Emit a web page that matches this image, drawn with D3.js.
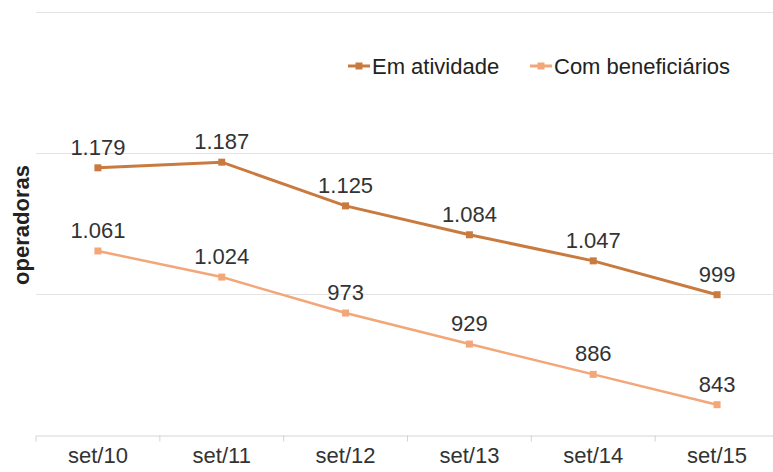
<!DOCTYPE html>
<html>
<head>
<meta charset="utf-8">
<script src="https://cdn.jsdelivr.net/npm/d3@7"></script>
<style>
  body { margin: 0; background: #fff; }
  text { font-family: "Liberation Sans", Arial, sans-serif; }
</style>
</head>
<body>
<svg id="chart" width="773" height="472"></svg>
<script>
// data
const periods = ["set/10", "set/11", "set/12", "set/13", "set/14", "set/15"];
const emAtividade = [1179, 1187, 1125, 1084, 1047, 999];
const comBeneficiarios = [1061, 1024, 973, 929, 886, 843];
const seriesNames = ["Em atividade", "Com beneficiários"];
const yTicks = [800, 1000, 1200, 1400];

const svg = d3.select("#chart");
const colors = ["#c97b3f", "#f3a678"];

const x = d3.scaleBand().domain(periods).range([36, 779]);
const y = d3.scaleLinear().domain([800, 1400]).range([435, 12]);

// pt-BR number format (dot as thousands separator)
const fmt = d3.formatLocale({ decimal: ",", thousands: ".", grouping: [3], currency: ["R$", ""] }).format(",");

// gridlines
svg.append("g")
  .selectAll("line")
  .data(yTicks.slice(1))
  .enter()
  .append("line")
  .attr("x1", 36)
  .attr("x2", 773)
  .attr("y1", (d) => Math.round(y(d)) + 0.5)
  .attr("y2", (d) => Math.round(y(d)) + 0.5)
  .attr("stroke", "#e4e4e4")
  .attr("stroke-width", 1);

// x axis
const xAxis = svg.append("g")
  .attr("transform", `translate(0,${Math.round(y(800)) + 0.5})`)
  .call(d3.axisBottom(x).tickSize(0).tickPadding(12));
xAxis.select(".domain").attr("stroke", "#d4d4d4");
xAxis.selectAll("text").attr("font-size", 22).attr("fill", "#333");
xAxis.selectAll(".tick-mark")
  .data(d3.range(periods.length + 1))
  .enter()
  .append("line")
  .attr("x1", (i) => 36 + i * x.bandwidth())
  .attr("x2", (i) => 36 + i * x.bandwidth())
  .attr("y1", 0)
  .attr("y2", 6)
  .attr("stroke", "#d4d4d4");

// y title
svg.append("text")
  .attr("transform", "translate(29,225) rotate(-90)")
  .attr("text-anchor", "middle")
  .attr("font-size", 22)
  .attr("font-weight", "bold")
  .attr("fill", "#222")
  .text("operadoras");

const series = [emAtividade, comBeneficiarios];
const cx = (i) => x(periods[i]) + x.bandwidth() / 2;
const line = d3.line().x((d, i) => cx(i)).y((d) => y(d));

series.forEach((values, s) => {
  svg.append("path")
    .datum(values)
    .attr("fill", "none")
    .attr("stroke", colors[s])
    .attr("stroke-width", s === 0 ? 3 : 2.5)
    .attr("d", line);

  svg.append("g")
    .selectAll("rect")
    .data(values)
    .enter()
    .append("rect")
    .attr("x", (d, i) => cx(i) - 3.5)
    .attr("y", (d) => y(d) - 3.5)
    .attr("width", 7)
    .attr("height", 7)
    .attr("fill", colors[s]);

  svg.append("g")
    .selectAll("text")
    .data(values)
    .enter()
    .append("text")
    .attr("x", (d, i) => cx(i))
    .attr("y", (d) => y(d) - 13)
    .attr("text-anchor", "middle")
    .attr("font-size", 22)
    .attr("fill", "#333")
    .text((d) => fmt(d));
});

// legend
const legendX = [348, 530];
seriesNames.forEach((name, s) => {
  const lg = svg.append("g").attr("transform", `translate(${legendX[s]},66)`);
  lg.append("line")
    .attr("x1", 0).attr("x2", 22)
    .attr("y1", 0).attr("y2", 0)
    .attr("stroke", colors[s]).attr("stroke-width", 3);
  lg.append("rect")
    .attr("x", 7.5).attr("y", -3.5)
    .attr("width", 7).attr("height", 7)
    .attr("fill", colors[s]);
  lg.append("text")
    .attr("x", 24).attr("y", 8)
    .attr("font-size", 22)
    .attr("fill", "#222")
    .text(name);
});
</script>
</body>
</html>
